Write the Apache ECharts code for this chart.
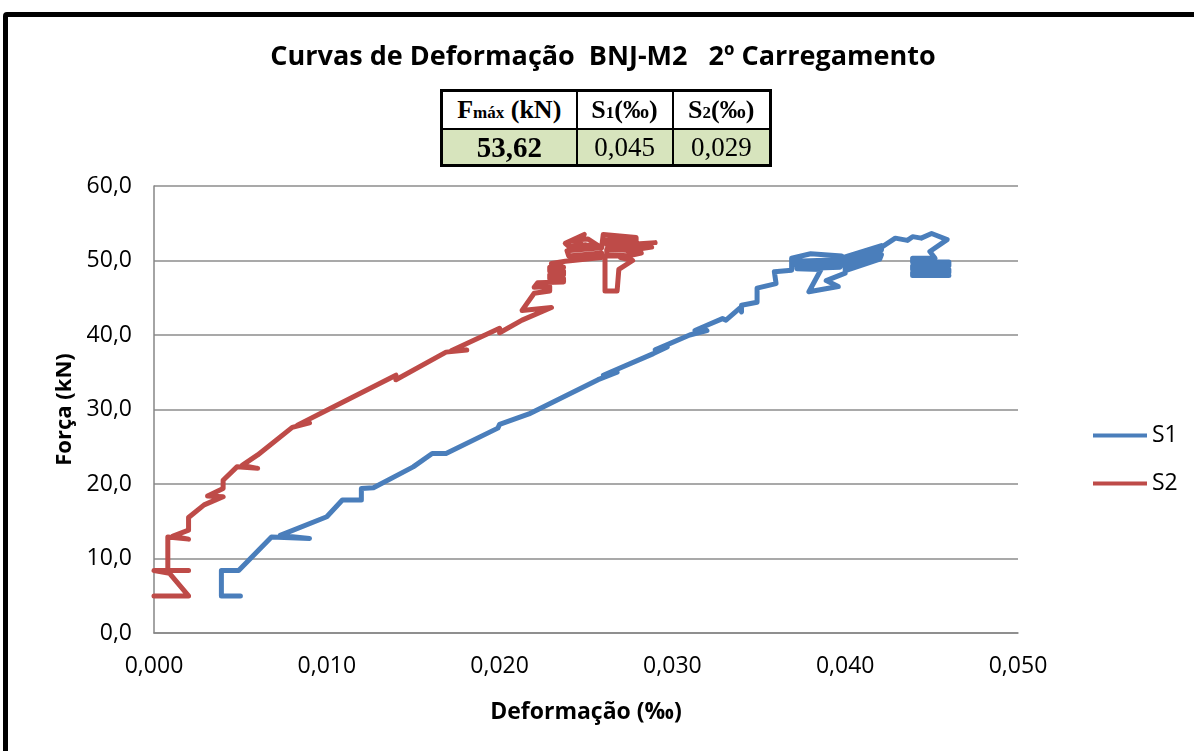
<!DOCTYPE html>
<html>
<head>
<meta charset="utf-8">
<script src="https://cdn.jsdelivr.net/npm/echarts@6/dist/echarts.min.js"></script>
<style>
  html, body { margin: 0; padding: 0; background: #fff; overflow: hidden; }
  #chart { position: absolute; left: 0; top: 0; width: 1194px; height: 751px; }
  #frame {
    position: absolute; left: 3px; top: 12px; width: 1400px; height: 1000px;
    border: 5px solid #000; border-radius: 4px; pointer-events: none; box-sizing: border-box;
  }
  #summary {
    position: absolute; left: 440px; top: 89px; width: 329px; table-layout: fixed;
    border-collapse: collapse; border: 3px solid #000;
    font-family: "Liberation Serif", "Times New Roman", serif; color: #000;
  }
  #summary td {
    border: 2px solid #000; text-align: center; padding: 0; line-height: 1; overflow: hidden;
  }
  #summary tr.head td { height: 36px; background: #fff; font-weight: bold; font-size: 26px; }
  #summary tr.vals td { height: 34px; background: #d7e4bd; font-size: 27px; }
  #summary .sub { font-size: 17px; }
</style>
</head>
<body>
<div id="chart"></div>
<table id="summary"></table>
<div id="frame"></div>
<script>
// Load–strain readings, second loading cycle (strain in ‰, force in kN)
const s1Strain = [0.0050, 0.0039, 0.0039, 0.0049, 0.0068, 0.0090, 0.0073, 0.0100, 0.0109, 0.0120,
  0.0120, 0.0127, 0.0150, 0.0161, 0.0169, 0.0199, 0.0200, 0.0217, 0.0257, 0.0268,
  0.0260, 0.0289, 0.0297, 0.0290, 0.0310, 0.0320, 0.0318, 0.0313, 0.0320, 0.0329,
  0.0331, 0.0339, 0.0340, 0.0340, 0.0349, 0.0349, 0.0360, 0.0359, 0.0369, 0.0369,
  0.0380, 0.0398, 0.0398, 0.0370, 0.0370, 0.0398, 0.0397, 0.0372, 0.0386, 0.0379,
  0.0396, 0.0389, 0.0400, 0.0400, 0.0421, 0.0421, 0.0400, 0.0400, 0.0421, 0.0420,
  0.0401, 0.0429, 0.0436, 0.0439, 0.0444, 0.0450, 0.0459, 0.0449, 0.0452, 0.0439,
  0.0439, 0.0460, 0.0460, 0.0439, 0.0439, 0.0460, 0.0460, 0.0439, 0.0439, 0.0460];
const s1Force = [4.97, 4.97, 8.4, 8.4, 12.9, 12.7, 13.1, 15.6, 17.85, 17.85,
  19.4, 19.5, 22.3, 24.1, 24.1, 27.5, 28.0, 29.4, 34.0, 35.0,
  34.6, 37.5, 38.4, 38.0, 40.0, 40.6, 40.9, 40.6, 41.3, 42.2,
  42.0, 43.6, 43.1, 44.0, 44.4, 46.3, 46.9, 48.5, 48.7, 50.3,
  50.9, 50.6, 50.1, 49.9, 49.4, 49.6, 49.1, 48.9, 48.8, 45.8,
  46.5, 47.3, 48.3, 50.5, 52.0, 51.4, 49.9, 49.3, 50.8, 50.2,
  48.7, 53.0, 52.7, 53.2, 53.0, 53.62, 52.8, 51.2, 50.3, 50.3,
  49.8, 49.8, 49.3, 49.3, 48.8, 48.8, 48.4, 48.4, 48.0, 48.0];

const s2Strain = [0.0000, 0.0020, 0.0009, 0.0000, 0.0020, 0.0008, 0.0008, 0.0020, 0.0011, 0.0020,
  0.0020, 0.0029, 0.0040, 0.0031, 0.0040, 0.0040, 0.0048, 0.0060, 0.0051, 0.0060,
  0.0080, 0.0090, 0.0083, 0.0100, 0.0140, 0.0140, 0.0169, 0.0181, 0.0172, 0.0200,
  0.0200, 0.0213, 0.0230, 0.0213, 0.0220, 0.0229, 0.0229, 0.0220, 0.0222, 0.0237,
  0.0237, 0.0229, 0.0229, 0.0237, 0.0237, 0.0229, 0.0229, 0.0237, 0.0230, 0.0238,
  0.0259, 0.0259, 0.0240, 0.0239, 0.0259, 0.0250, 0.0240, 0.0238, 0.0249, 0.0247,
  0.0242, 0.0251, 0.0259, 0.0260, 0.0279, 0.0279, 0.0262, 0.0262, 0.0279, 0.0279,
  0.0262, 0.0262, 0.0276, 0.0261, 0.0261, 0.0268, 0.0269, 0.0277, 0.0270, 0.0282,
  0.0274, 0.0288, 0.0279, 0.0290];
const s2Force = [4.97, 4.97, 8.0, 8.4, 8.4, 8.4, 12.9, 12.6, 13.0, 13.8,
  15.5, 17.2, 18.3, 18.4, 19.4, 20.5, 22.3, 22.1, 22.5, 23.9,
  27.6, 28.2, 27.9, 29.9, 34.6, 34.0, 37.7, 38.0, 37.9, 40.9,
  40.3, 42.0, 43.7, 43.3, 45.6, 45.9, 46.5, 46.4, 47.0, 47.1,
  47.6, 47.6, 48.1, 48.1, 48.6, 48.6, 49.1, 49.1, 49.6, 49.9,
  50.4, 51.0, 50.6, 51.3, 51.7, 52.1, 51.9, 52.3, 53.5, 52.6,
  52.7, 52.9, 51.7, 53.5, 53.1, 52.5, 52.8, 52.1, 51.9, 51.3,
  51.5, 50.8, 50.6, 50.6, 45.9, 45.9, 48.8, 50.0, 50.4, 51.0,
  51.3, 51.8, 52.2, 52.4];

// Summary table
const tableHeaders = ['F<span class="sub">máx</span> (kN)', 'S<span class="sub">1</span>(‰)', 'S<span class="sub">2</span>(‰)'];
const tableValues = ['53,62', '0,045', '0,029'];

const seriesNames = ['S1', 'S2'];
const seriesColors = ['#4a7ebb', '#be4b48'];
const titleText = 'Curvas de Deformação  BNJ-M2   2º Carregamento';
const xAxisTitle = 'Deformação (‰)';
const yAxisTitle = 'Força (kN)';

const colWidths = [135, 96, 98];
const tbl = document.getElementById('summary');
tbl.innerHTML =
  '<colgroup>' + colWidths.map(w => '<col style="width:' + w + 'px">').join('') + '</colgroup>' +
  '<tr class="head">' + tableHeaders.map(h => '<td>' + h + '</td>').join('') + '</tr>' +
  '<tr class="vals">' + tableValues.map((v, i) => '<td' + (i === 0 ? ' style="font-weight:bold;font-size:29px"' : '') + '>' + v + '</td>').join('') + '</tr>';

const pairs = (xs, ys) => xs.map((x, i) => [x, ys[i]]);
const sans = '"Open Sans", "Noto Sans", sans-serif';

const chart = echarts.init(document.getElementById('chart'), null, { renderer: 'canvas' });
chart.setOption({
  animation: false,
  backgroundColor: '#fff',
  graphic: [{
    type: 'text', x: 603, y: 57,
    style: { text: titleText, font: 'bold 27px ' + sans, fill: '#000', textAlign: 'center', textVerticalAlign: 'middle' }
  }],
  grid: { left: 154, right: 176, top: 186, bottom: 118 },
  legend: {
    orient: 'vertical', left: 1088, top: 419,
    icon: 'rect', itemWidth: 54, itemHeight: 4, itemGap: 25,
    textStyle: { fontFamily: sans, fontSize: 23, color: '#000' },
    data: seriesNames
  },
  xAxis: {
    type: 'value', min: 0, max: 0.05, interval: 0.01,
    name: xAxisTitle, nameLocation: 'middle', nameGap: 68,
    nameTextStyle: { fontFamily: sans, fontSize: 23, fontWeight: 'bold', color: '#000' },
    axisLine: { show: true, lineStyle: { color: '#868686', width: 1.5 } },
    axisTick: { show: false },
    splitLine: { show: false },
    axisLabel: {
      margin: 22, fontFamily: sans, fontSize: 23, color: '#000',
      formatter: v => v.toFixed(3).replace('.', ',')
    }
  },
  yAxis: {
    type: 'value', min: 0, max: 60, interval: 10,
    name: yAxisTitle, nameLocation: 'middle', nameGap: 78, nameRotate: 90,
    nameTextStyle: { fontFamily: sans, fontSize: 22, fontWeight: 'bold', color: '#000' },
    axisLine: { show: true, lineStyle: { color: '#868686', width: 1.5 } },
    axisTick: { show: false },
    splitLine: { show: true, lineStyle: { color: '#8c8c8c', width: 1.5 } },
    axisLabel: {
      margin: 22, fontFamily: sans, fontSize: 23, color: '#000',
      formatter: v => v.toFixed(1).replace('.', ',')
    }
  },
  series: [
    {
      name: seriesNames[0], type: 'line', data: pairs(s1Strain, s1Force),
      showSymbol: false, symbol: 'none', color: seriesColors[0],
      lineStyle: { width: 5, cap: 'round', join: 'round', color: seriesColors[0] }
    },
    {
      name: seriesNames[1], type: 'line', data: pairs(s2Strain, s2Force),
      showSymbol: false, symbol: 'none', color: seriesColors[1],
      lineStyle: { width: 5, cap: 'round', join: 'round', color: seriesColors[1] }
    }
  ]
});
</script>
</body>
</html>
